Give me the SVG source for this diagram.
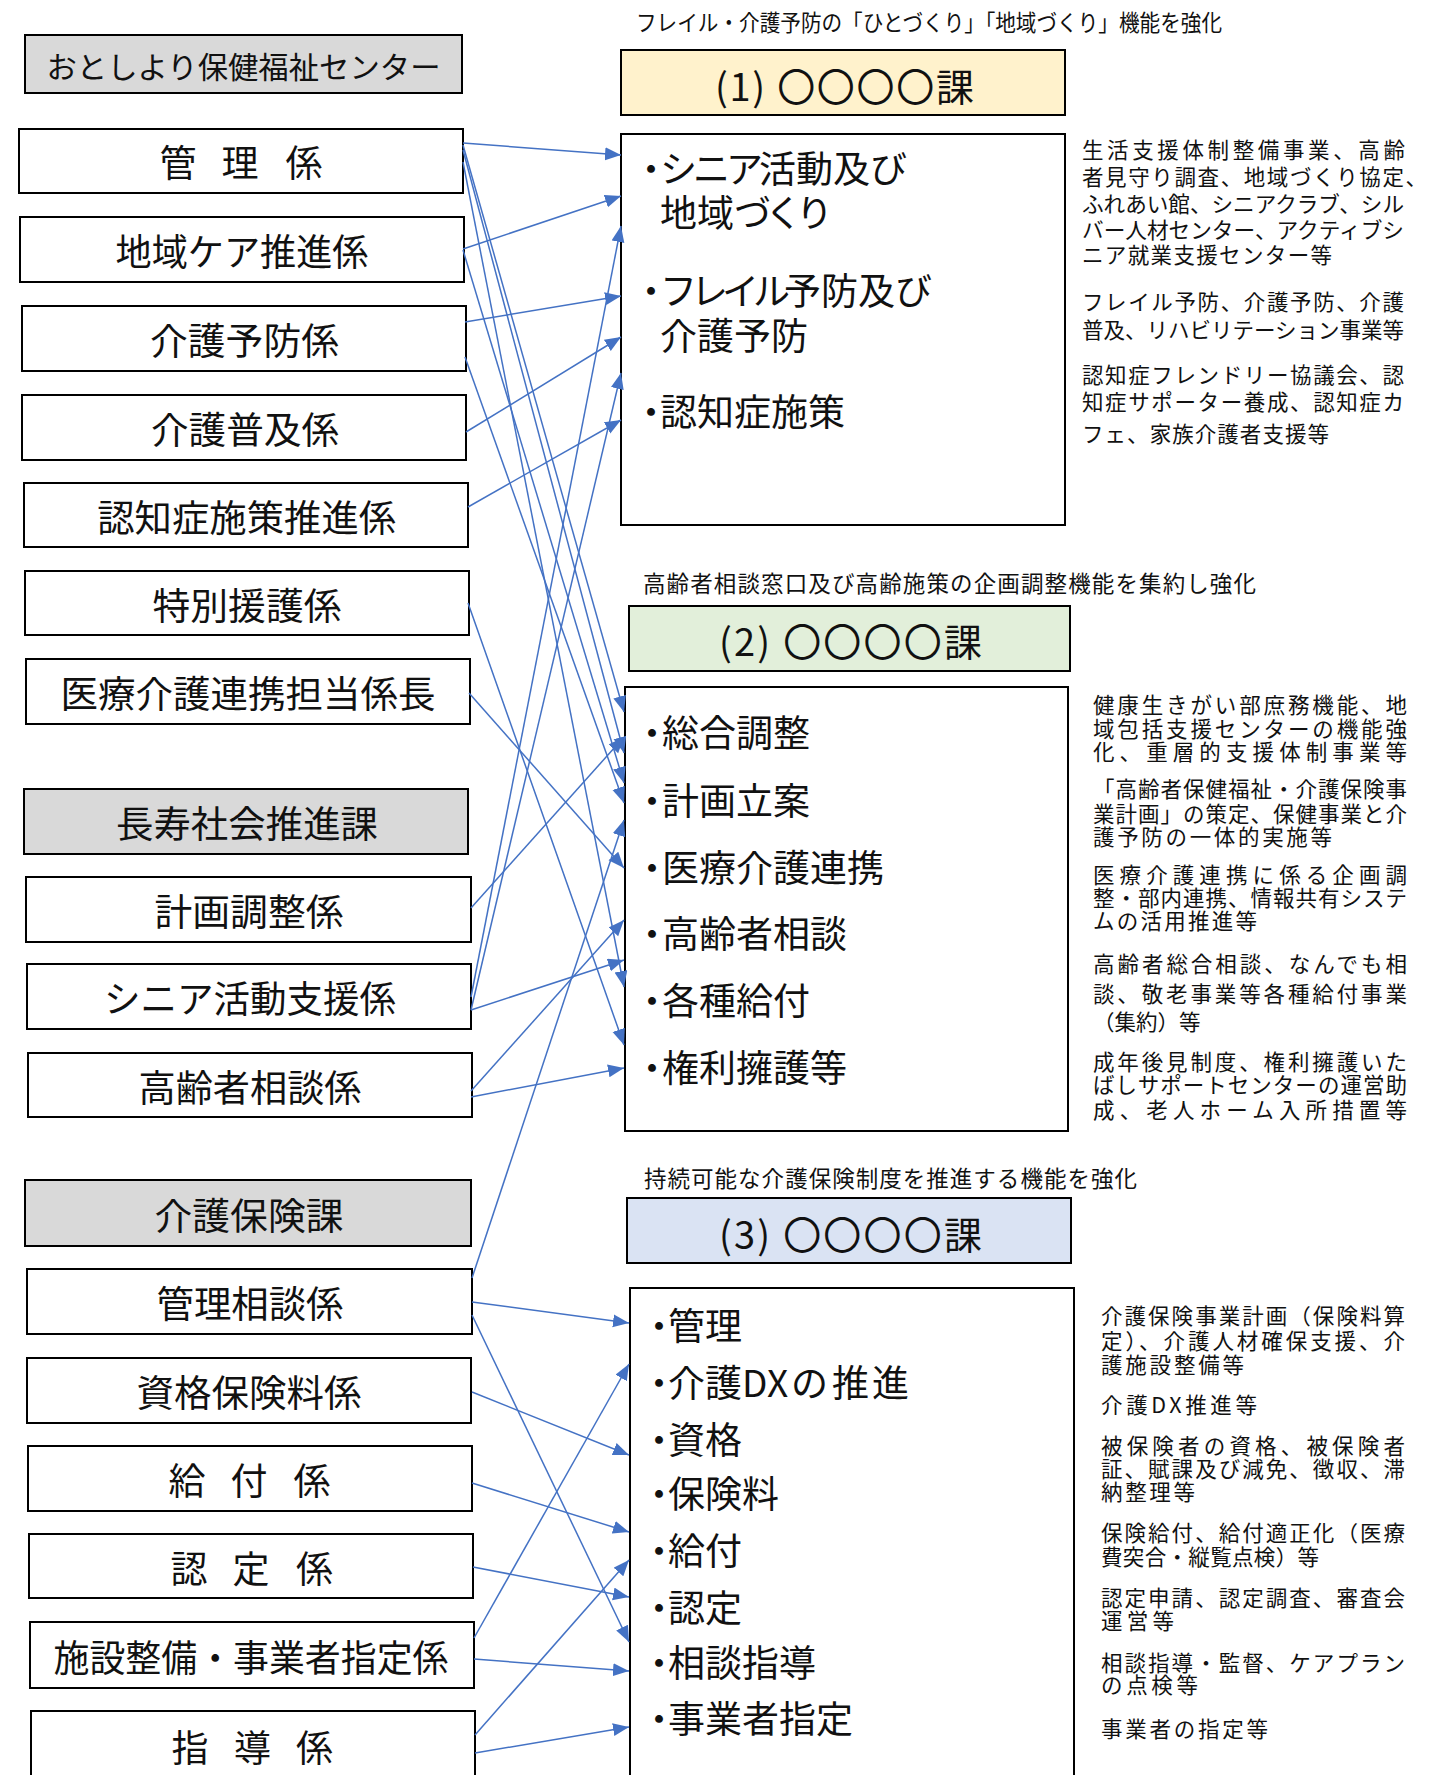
<svg xmlns="http://www.w3.org/2000/svg" width="1440" height="1775" viewBox="0 0 1440 1775">
<defs>
<style>
.box{fill:#fff;stroke:#000;stroke-width:2}
.gray{fill:#d9d9d9}
.t{font-family:"Noto Sans CJK JP","Noto Sans",sans-serif;fill:#111}
.lbl{font-size:37px;text-anchor:middle}
.item{font-size:37px}
.desc{font-size:21.5px}
.sub{font-size:22.5px}
.hd{font-size:38px}
.conn line{stroke:#4472c4;stroke-width:1.5;fill:none;marker-end:url(#ah)}
</style>
<marker id="ah" markerUnits="userSpaceOnUse" markerWidth="17" markerHeight="14" refX="16" refY="6.5" orient="auto" viewBox="0 0 17 14">
<path d="M0,0 L16,6.5 L0,13 z" fill="#4472c4"/>
</marker>
</defs>
<rect width="1440" height="1775" fill="#fff"/>

<!-- Left column -->
<g id="n-center"><rect class="box gray" x="25" y="35" width="437" height="58"/><text class="t" x="243.5" y="77.5" font-size="30" text-anchor="middle" textLength="394" lengthAdjust="spacingAndGlyphs">おとしより保健福祉センター</text></g>
<g id="n-kanri"><rect class="box" x="19" y="129" width="444" height="64"/><text class="t lbl" x="178 209 240 272 304" y="177">管 理 係</text></g>
<g id="n-chiikicare"><rect class="box" x="20" y="217" width="444" height="65"/><text class="t lbl" x="242" y="266" textLength="253" lengthAdjust="spacingAndGlyphs">地域ケア推進係</text></g>
<g id="n-kaigoyobo"><rect class="box" x="22" y="306" width="444" height="65"/><text class="t lbl" x="244.5" y="355" textLength="189" lengthAdjust="spacingAndGlyphs">介護予防係</text></g>
<g id="n-kaigofukyu"><rect class="box" x="22" y="395" width="444" height="65"/><text class="t lbl" x="245" y="444" textLength="188" lengthAdjust="spacingAndGlyphs">介護普及係</text></g>
<g id="n-ninchisho"><rect class="box" x="24" y="483" width="444" height="64"/><text class="t lbl" x="246.7" y="531.5" textLength="299" lengthAdjust="spacingAndGlyphs">認知症施策推進係</text></g>
<g id="n-tokubetsu"><rect class="box" x="25" y="571" width="444" height="64"/><text class="t lbl" x="247" y="620" textLength="189" lengthAdjust="spacingAndGlyphs">特別援護係</text></g>
<g id="n-iryo"><rect class="box" x="26" y="659" width="444" height="65"/><text class="t lbl" x="248" y="708" textLength="375" lengthAdjust="spacingAndGlyphs">医療介護連携担当係長</text></g>
<g id="n-chouju"><rect class="box gray" x="24" y="789" width="444" height="65"/><text class="t lbl" x="247" y="838" textLength="262" lengthAdjust="spacingAndGlyphs">長寿社会推進課</text></g>
<g id="n-keikaku"><rect class="box" x="26" y="877" width="445" height="65"/><text class="t lbl" x="249" y="926" textLength="189" lengthAdjust="spacingAndGlyphs">計画調整係</text></g>
<g id="n-senior"><rect class="box" x="27" y="964" width="444" height="65"/><text class="t lbl" x="250" y="1013" textLength="292" lengthAdjust="spacingAndGlyphs">シニア活動支援係</text></g>
<g id="n-koureisoudan"><rect class="box" x="28" y="1053" width="444" height="64"/><text class="t lbl" x="250" y="1102" textLength="223" lengthAdjust="spacingAndGlyphs">高齢者相談係</text></g>
<g id="n-kaigohoken"><rect class="box gray" x="25" y="1180" width="446" height="66"/><text class="t lbl" x="249" y="1229.5" textLength="189" lengthAdjust="spacingAndGlyphs">介護保険課</text></g>
<g id="n-kanrisoudan"><rect class="box" x="27" y="1269" width="445" height="65"/><text class="t lbl" x="250" y="1318" textLength="187" lengthAdjust="spacingAndGlyphs">管理相談係</text></g>
<g id="n-shikaku"><rect class="box" x="27" y="1358" width="444" height="65"/><text class="t lbl" x="249" y="1407" textLength="225" lengthAdjust="spacingAndGlyphs">資格保険料係</text></g>
<g id="n-kyufu"><rect class="box" x="28" y="1446" width="444" height="65"/><text class="t lbl" x="187 218 249 280 312" y="1495">給 付 係</text></g>
<g id="n-nintei"><rect class="box" x="29" y="1534" width="444" height="64"/><text class="t lbl" x="189 220 251 283 314.5" y="1583">認 定 係</text></g>
<g id="n-shisetsu"><rect class="box" x="30" y="1622" width="444" height="66"/><text class="t lbl" x="251" y="1671.5" textLength="395" lengthAdjust="spacingAndGlyphs">施設整備・事業者指定係</text></g>
<g id="n-shidou"><rect class="box" x="31" y="1711" width="444" height="90"/><text class="t lbl" x="190 221 252.5 283 314.5" y="1761.5">指 導 係</text></g>

<!-- (1) -->
<g id="n-ka1">
<text class="t sub" x="636" y="30.5" textLength="586" lengthAdjust="spacingAndGlyphs">フレイル・介護予防の「ひとづくり」「地域づくり」機能を強化</text>
<rect class="box" x="621" y="50" width="444" height="65" style="fill:#fff2cc"/>
<text class="t hd" x="715" y="100.5" textLength="259">(1) 〇〇〇〇課</text>
</g>
<g id="n-ka1-body">
<rect class="box" x="621" y="134" width="444" height="391"/>
<text class="t item" x="632.5 660 693 726 759 796 833 870" y="183">・シニア活動及び</text>
<text class="t item" x="660 697 734 765 796" y="227">地域づくり</text>
<text class="t item" x="632.5 660 691 722 753 784 821 858 895" y="305">・フレイル予防及び</text>
<text class="t item" x="660" y="350">介護予防</text>
<text class="t item" x="632.5 660" y="425.5">・認知症施策</text>
</g>
<g id="d-ka1">
<text class="t desc"><tspan x="1082" y="158.4" textLength="323">生活支援体制整備事業、高齢</tspan><tspan x="1082" y="185.1" textLength="345">者見守り調査、地域づくり協定、</tspan><tspan x="1082" y="211.9" textLength="322" lengthAdjust="spacingAndGlyphs">ふれあい館、シニアクラブ、シル</tspan><tspan x="1082" y="238.4" textLength="322" lengthAdjust="spacingAndGlyphs">バー人材センター、アクティブシ</tspan><tspan x="1082" y="263.4" textLength="250">ニア就業支援センター等</tspan></text>
<text class="t desc"><tspan x="1082" y="310" textLength="322">フレイル予防、介護予防、介護</tspan><tspan x="1082" y="338.4" textLength="322" lengthAdjust="spacingAndGlyphs">普及、リハビリテーション事業等</tspan></text>
<text class="t desc"><tspan x="1082" y="383.4" textLength="322">認知症フレンドリー協議会、認</tspan><tspan x="1082" y="410" textLength="322">知症サポーター養成、認知症カ</tspan><tspan x="1082" y="442.2" textLength="247">フェ、家族介護者支援等</tspan></text>
</g>

<!-- (2) -->
<g id="n-ka2">
<text class="t sub" x="643" y="591.5" textLength="613">高齢者相談窓口及び高齢施策の企画調整機能を集約し強化</text>
<rect class="box" x="629" y="606" width="441" height="65" style="fill:#e2efda"/>
<text class="t hd" x="719" y="656" textLength="263">(2) 〇〇〇〇課</text>
</g>
<g id="n-ka2-body">
<rect class="box" x="625" y="687" width="443" height="444"/>
<text class="t item" x="633.5 662" y="747">・総合調整</text>
<text class="t item" x="633.5 662" y="815.4">・計画立案</text>
<text class="t item" x="633.5 662" y="882">・医療介護連携</text>
<text class="t item" x="633.5 662" y="948">・高齢者相談</text>
<text class="t item" x="633.5 662" y="1015">・各種給付</text>
<text class="t item" x="633.5 662" y="1082">・権利擁護等</text>
</g>
<g id="d-ka2">
<text class="t desc"><tspan x="1093" y="712.8" textLength="314">健康生きがい部庶務機能、地</tspan><tspan x="1093" y="736.9" textLength="314">域包括支援センターの機能強</tspan><tspan x="1093" y="759.8" textLength="314">化、重層的支援体制事業等</tspan></text>
<text class="t desc"><tspan x="1093" y="797" textLength="314">「高齢者保健福祉・介護保険事</tspan><tspan x="1093" y="821.8" textLength="314">業計画」の策定、保健事業と介</tspan><tspan x="1093" y="844.8" textLength="239">護予防の一体的実施等</tspan></text>
<text class="t desc"><tspan x="1093" y="883.1" textLength="314">医療介護連携に係る企画調</tspan><tspan x="1093" y="906" textLength="314">整・部内連携、情報共有システ</tspan><tspan x="1093" y="929" textLength="164">ムの活用推進等</tspan></text>
<text class="t desc"><tspan x="1093" y="972.2" textLength="314">高齢者総合相談、なんでも相</tspan><tspan x="1093" y="1001.7" textLength="314">談、敬老事業等各種給付事業</tspan><tspan x="1093" y="1030.2">（集約）等</tspan></text>
<text class="t desc"><tspan x="1093" y="1070.2" textLength="314">成年後見制度、権利擁護いた</tspan><tspan x="1093" y="1093.2" textLength="314">ばしサポートセンターの運営助</tspan><tspan x="1093" y="1118.2" textLength="314">成、老人ホーム入所措置等</tspan></text>
</g>

<!-- (3) -->
<g id="n-ka3">
<text class="t sub" x="644" y="1187" textLength="493">持続可能な介護保険制度を推進する機能を強化</text>
<rect class="box" x="627" y="1198" width="444" height="65" style="fill:#dae3f3"/>
<text class="t hd" x="719" y="1248.5" textLength="263">(3) 〇〇〇〇課</text>
</g>
<g id="n-ka3-body">
<rect class="box" x="630" y="1288" width="444" height="520"/>
<text class="t item" x="640.5 668" y="1340">・管理</text>
<text class="t item" x="640.5 668 705 742 767 791 832 872" y="1397">・介護DXの推進</text>
<text class="t item" x="640.5 668" y="1453.7">・資格</text>
<text class="t item" x="640.5 668" y="1508">・保険料</text>
<text class="t item" x="640.5 668" y="1565">・給付</text>
<text class="t item" x="640.5 668" y="1622">・認定</text>
<text class="t item" x="640.5 668" y="1676.5">・相談指導</text>
<text class="t item" x="640.5 668" y="1733">・事業者指定</text>
</g>
<g id="d-ka3">
<text class="t desc"><tspan x="1101" y="1324.2" textLength="304">介護保険事業計画（保険料算</tspan><tspan x="1101" y="1348.7" textLength="304">定）、介護人材確保支援、介</tspan><tspan x="1101" y="1373" textLength="143">護施設整備等</tspan></text>
<text class="t desc" x="1101" y="1413.2" textLength="156">介護DX推進等</text>
<text class="t desc"><tspan x="1101" y="1454" textLength="304">被保険者の資格、被保険者</tspan><tspan x="1101" y="1477.1" textLength="304">証、賦課及び減免、徴収、滞</tspan><tspan x="1101" y="1499.7" textLength="94">納整理等</tspan></text>
<text class="t desc"><tspan x="1101" y="1541.1" textLength="304">保険給付、給付適正化（医療</tspan><tspan x="1101" y="1565.2" textLength="218">費突合・縦覧点検）等</tspan></text>
<text class="t desc"><tspan x="1101" y="1605.8" textLength="304">認定申請、認定調査、審査会</tspan><tspan x="1101" y="1629.2" textLength="73">運営等</tspan></text>
<text class="t desc"><tspan x="1101" y="1670.7" textLength="304">相談指導・監督、ケアプラン</tspan><tspan x="1101" y="1692.9" textLength="97">の点検等</tspan></text>
<text class="t desc" x="1101" y="1737.2" textLength="167">事業者の指定等</text>
</g>

<!-- Connectors -->
<g id="connectors" class="conn">
<line x1="463" y1="143" x2="621" y2="155"/>
<line x1="463" y1="249" x2="621" y2="196"/>
<line x1="471" y1="997" x2="621" y2="226"/>
<line x1="465" y1="322" x2="621" y2="296"/>
<line x1="466" y1="432" x2="621" y2="337"/>
<line x1="471" y1="1010" x2="621" y2="373"/>
<line x1="468" y1="507" x2="621" y2="420"/>
<line x1="463" y1="145" x2="624" y2="712"/>
<line x1="463" y1="150" x2="624" y2="753"/>
<line x1="463" y1="162" x2="624" y2="987"/>
<line x1="463" y1="250" x2="624" y2="783"/>
<line x1="465" y1="357" x2="624" y2="803"/>
<line x1="468" y1="603" x2="624" y2="1045"/>
<line x1="469" y1="693" x2="624" y2="868"/>
<line x1="471" y1="908" x2="624" y2="737"/>
<line x1="472" y1="1278" x2="624" y2="820"/>
<line x1="471" y1="1010" x2="624" y2="960"/>
<line x1="471" y1="1091" x2="624" y2="920"/>
<line x1="471" y1="1097" x2="624" y2="1068"/>
<line x1="472" y1="1302" x2="629" y2="1323"/>
<line x1="474" y1="1638" x2="629" y2="1364"/>
<line x1="472" y1="1392" x2="629" y2="1455"/>
<line x1="472" y1="1483" x2="629" y2="1532"/>
<line x1="475" y1="1735" x2="629" y2="1560"/>
<line x1="473" y1="1567" x2="629" y2="1597"/>
<line x1="472" y1="1315" x2="629" y2="1642"/>
<line x1="474" y1="1659" x2="629" y2="1671"/>
<line x1="475" y1="1753" x2="629" y2="1727"/>
</g>
</svg>
